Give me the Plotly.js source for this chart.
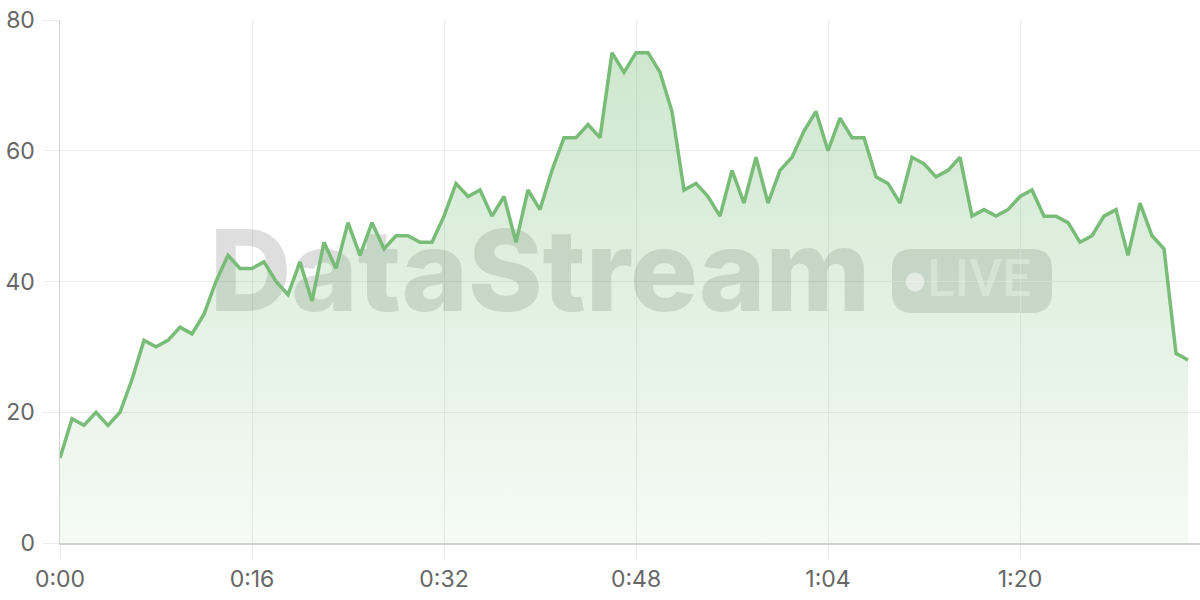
<!DOCTYPE html>
<html>
<head>
<meta charset="utf-8">
<script src="https://cdn.plot.ly/plotly-3.0.1.min.js"></script>
<style>html,body{margin:0;padding:0;background:#fff;}#chart{width:1200px;height:600px;}</style>
</head>
<body>
<div id="chart"></div>
<script>
// ---- data ----
const seconds = [];
for (let i = 0; i < 95; i++) seconds.push(i);
const values = [
  13, 19, 18, 20, 18, 20, 25, 31, 30, 31,
  33, 32, 35, 40, 44, 42, 42, 43, 40, 38,
  43, 37, 46, 42, 49, 44, 49, 45, 47, 47,
  46, 46, 50, 55, 53, 54, 50, 53, 46, 54,
  51, 57, 62, 62, 64, 62, 75, 72, 75, 75,
  72, 66, 54, 55, 53, 50, 57, 52, 59, 52,
  57, 59, 63, 66, 60, 65, 62, 62, 56, 55,
  52, 59, 58, 56, 57, 59, 50, 51, 50, 51,
  53, 54, 50, 50, 49, 46, 47, 50, 51, 44,
  52, 47, 45, 29, 28
];
const xTickVals = [0, 16, 32, 48, 64, 80];
const xTickText = ["0:00", "0:16", "0:32", "0:48", "1:04", "1:20"];
const yTickVals = [0, 20, 40, 60, 80];

// ---- watermark (decoration, not data) ----
const wmMain = "DataStream";
const wmBadge = "LIVE";

function roundedRectPath(x0, y0, x1, y1, rx, ry) {
  return `M ${x0 + rx} ${y0} L ${x1 - rx} ${y0} Q ${x1} ${y0} ${x1} ${y0 + ry} ` +
         `L ${x1} ${y1 - ry} Q ${x1} ${y1} ${x1 - rx} ${y1} L ${x0 + rx} ${y1} ` +
         `Q ${x0} ${y1} ${x0} ${y1 - ry} L ${x0} ${y0 + ry} Q ${x0} ${y0} ${x0 + rx} ${y0} Z`;
}

const green = "rgb(120,188,120)";

const traces = [
  {
    x: [40], y: [39.8], mode: "text", text: [wmMain],
    textposition: "middle center",
    textfont: {family: "Inter", size: 113, weight: 800, color: "rgba(80,80,80,0.19)"},
    hoverinfo: "skip", showlegend: false, cliponaxis: false
  },
  {
    x: [76.6], y: [39.7], mode: "text", text: [wmBadge],
    textposition: "middle center",
    textfont: {family: "Roboto", size: 51, weight: 500, color: "rgba(255,255,255,0.55)"},
    hoverinfo: "skip", showlegend: false, cliponaxis: false
  },
  {
    x: seconds, y: values, type: "scatter", mode: "lines",
    line: {color: green, width: 3.5, shape: "linear"},
    fill: "tozeroy",
    fillgradient: {
      type: "vertical",
      start: 0, stop: 80,
      colorscale: [[0, "rgba(120,188,120,0.07)"], [1, "rgba(120,188,120,0.38)"]]
    },
    hoverinfo: "skip", showlegend: false
  }
];

const layout = {
  width: 1200, height: 600,
  margin: {l: 60, r: 0, t: 20, b: 57},
  paper_bgcolor: "#ffffff", plot_bgcolor: "#ffffff",
  showlegend: false,
  font: {family: "Inter, 'Liberation Sans', sans-serif", color: "#666666", size: 23},
  xaxis: {
    range: [0, 95], tickvals: xTickVals, ticktext: xTickText,
    showgrid: true, gridcolor: "#ebebeb", gridwidth: 1,
    showline: true, linecolor: "#d0d0d0", linewidth: 1.5,
    ticks: "outside", ticklen: 15, tickcolor: "#ebebeb", tickwidth: 1,
    zeroline: false, fixedrange: true,
    tickfont: {size: 23, color: "#666666"}
  },
  yaxis: {
    range: [0, 80], tickvals: yTickVals,
    showgrid: true, gridcolor: "#ebebeb", gridwidth: 1,
    showline: true, linecolor: "#d4d4d4", linewidth: 1.5,
    ticks: "outside", ticklen: 16, tickcolor: "#ebebeb", tickwidth: 1,
    ticklabelstandoff: 3,
    zeroline: false, fixedrange: true,
    tickfont: {size: 23, color: "#666666"}
  },
  shapes: [
    {
      type: "path", xref: "paper", yref: "paper", layer: "below",
      path: roundedRectPath(0.7298, 0.4398, 0.8702, 0.5621, 0.0175, 0.0382),
      fillcolor: "rgba(80,80,80,0.19)", line: {width: 0}
    },
    {
      type: "circle", xref: "paper", yref: "paper", layer: "above",
      x0: 0.7417, x1: 0.7583, y0: 0.4809, y1: 0.5172,
      fillcolor: "rgba(255,255,255,0.5)", line: {width: 0}
    }
  ]
};

Plotly.newPlot("chart", traces, layout, {staticPlot: true, displayModeBar: false});
</script>
</body>
</html>
